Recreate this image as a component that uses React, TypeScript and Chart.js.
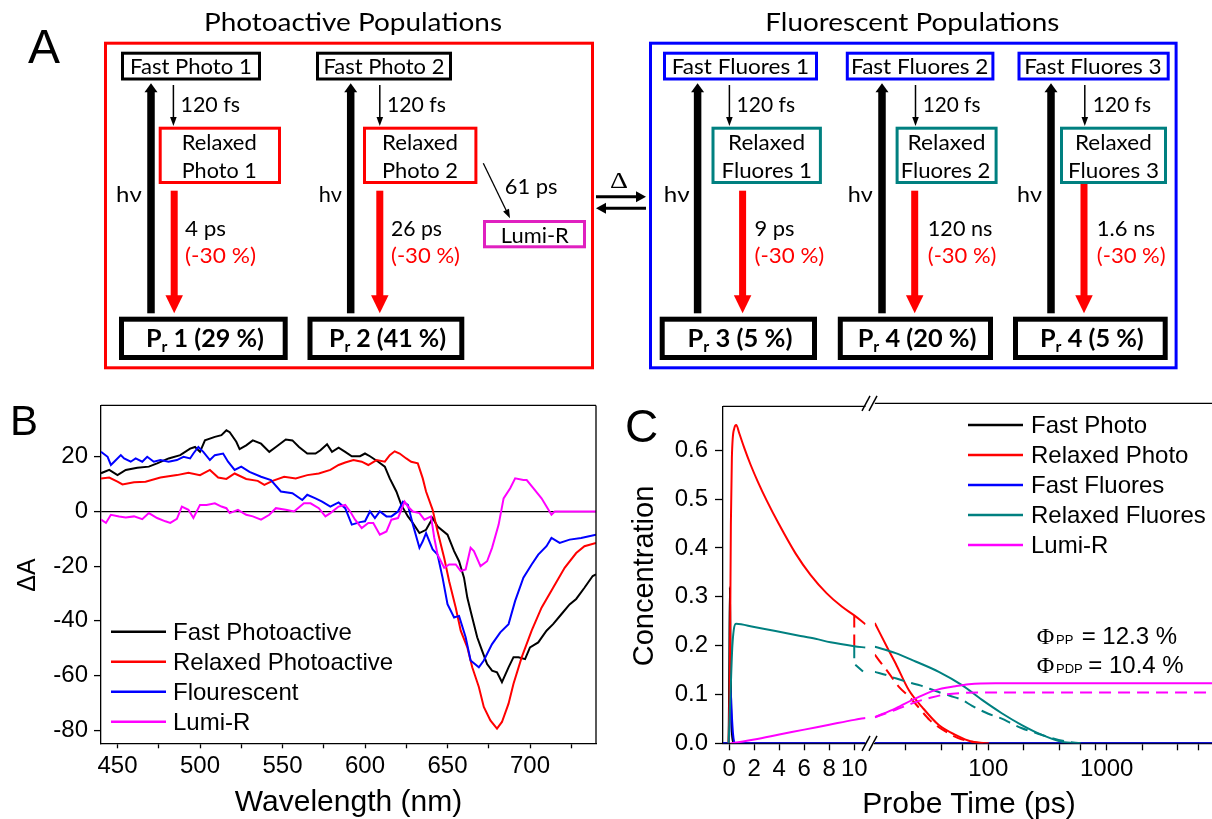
import React, { useEffect, useRef } from "react";
import { Chart, registerables } from "chart.js";

Chart.register(...registerables);

const SANS = "'Liberation Sans', Arial, sans-serif";
const SERIF = "'Liberation Serif', 'Times New Roman', serif";
const CAL = "Lato, 'Open Sans', sans-serif";

// ---------------- Panel B data (wavelength in nm, ΔA) ----------------
const fastPhotoWl = [440,445,450,455,462,469,474,481,488,494,497,500,503,509,513,516,518,522,524,528,532,537,542,546,552,556,560,565,570,573,577,580,584,588,592,597,600,603,608,612,615,619,622,626,629,633,637,641,644,650,654,657,660,662,664,668,671,674,677,680,683,687,690,693,697,700,705,710,714,719,724,728,733,738,740];
const fastPhotoDA = [14,15.2,13.3,15.2,16,16.4,17.6,19.4,20.6,23,23.6,21.8,26,27.3,27.9,29.7,29,25.5,22.8,24.2,26,24.8,21.8,23.6,26.3,26,23.6,21.2,21.2,22.4,24.6,21.8,23.3,21.8,20.2,20.2,21.2,20.2,18.2,16.4,12.1,7.3,2.4,-1.8,-4.2,-7.9,-6.7,-2.4,-5.5,-8.5,-14.5,-18.2,-24.2,-31.5,-36.4,-46,-51,-55.8,-58.2,-58.8,-62.4,-57,-53.3,-53.3,-54,-49.7,-47.9,-43.6,-41.2,-37.6,-34,-32,-27.9,-23.6,-23];

const relaxedPhotoWl = [440,445,450,453,460,467,476,486,493,500,506,511,516,521,528,535,539,544,551,558,565,572,579,584,588,593,598,602,607,612,615,618,621,625,628,632,635,637,641,644,648,651,655,658,662,665,669,672,676,680,683,687,690,695,701,707,714,721,728,733,740];
const relaxedPhotoDA = [12.1,12.4,10.9,9.9,10.7,10.9,12.4,13.3,14.2,13.3,15.2,12.4,11.9,13.9,11.9,11.2,9.7,11.2,12.7,12.1,13.3,13.9,15.2,17,17.9,18.8,18.2,17,18.8,18.2,20.6,22,21.2,19.4,18.2,17.6,12.1,7.3,0.6,-7.3,-17,-25.5,-35.2,-43.6,-49.7,-57,-64.2,-71.5,-76.4,-79.4,-77,-70.3,-63,-53.3,-43.6,-35.2,-27.9,-20.6,-15.2,-12.7,-11.5];

const fluorescentWl = [440,444,446,448,452,454,458,461,465,468,472,476,481,486,490,494,496,499,502,506,509,514,517,521,525,530,537,543,549,556,562,565,570,574,579,584,588,592,597,600,603,606,609,613,616,620,623,626,629,633,635,637,641,644,647,650,654,657,661,664,669,672,677,682,687,691,696,701,705,710,713,718,724,731,740];
const fluorescentDA = [21.8,20,17,18.2,20.6,19.4,18.2,19.4,18.2,20,18.2,18.8,18.2,18.8,20,19.4,21.2,23.6,21.8,18.8,20.6,21.2,18.2,15.2,16.4,14.5,12.7,11.5,7.3,6.7,4.2,6.1,4.8,3.6,1.8,3.3,1.2,-4.8,-3.9,-3.6,0,-2.4,0,-1.8,-1.8,0,3.6,2.4,-4.8,-13.3,-10.9,-7.9,-13.9,-15.8,-24.2,-33.9,-38.8,-38.2,-46,-54.5,-57,-54.5,-48.5,-44.2,-41.2,-32.7,-24.2,-19.4,-15.8,-12.7,-9.7,-11.5,-10.3,-9.7,-8.5];

const lumiRWl = [440,443,446,451,455,460,465,469,474,479,482,486,489,493,496,500,504,509,513,516,518,523,528,532,537,542,546,552,557,563,567,572,576,579,584,588,591,594,598,602,605,609,613,616,620,624,626,629,633,636,640,642,644,648,651,655,658,661,664,666,670,674,677,681,684,688,691,696,698,702,707,710,713,715,740];
const lumiRDA = [-3,-4.2,-1.2,-1.8,-2.2,-1.8,-2.8,-0.6,-2.4,-3.6,-4.2,-2.7,1.8,0.6,-2.4,2.4,2.4,3,1.8,1.2,-0.6,0.6,-1.2,-1.8,-3,-1.2,1.2,0.6,0,3,3,1.2,-1.8,-0.6,1.8,2.4,0,-3,-6.1,-4.2,-4.2,-8.5,-7.3,-3,-2.4,3.6,1.8,0,-0.6,-3,-1.8,-9.7,-15.8,-20.6,-19.4,-19.4,-21.8,-21.2,-13.3,-14.5,-20,-18.2,-13.3,-4.8,4.8,8.5,12.1,11.5,11.5,8.5,4.8,1.8,-1.2,0,0];

const bLegendLabels = ["Fast Photoactive", "Relaxed Photoactive", "Flourescent", "Lumi-R"];
const bColors = ["#000000", "#ff0000", "#0000ff", "#ff00ff"];
const bXTicks = [450, 475, 500, 525, 550, 575, 600, 625, 650, 675, 700, 725];
const bXLabelled = [450, 500, 550, 600, 650, 700];

// ---------------- Panel C data (probe time in ps, concentration) ----------------
// early part: linear axis (-0.5 .. 10.9 ps); late part: log axis (11 ps ..)
const fastPhotoEarlyT = [-0.5,-0.05,0,0.05,0.1,0.15,0.25,0.4,10.9];
const fastPhotoEarlyC = [0,0,0.15,0.32,0.2,0.08,0.01,0,0];
const fastPhotoLateT = [11,8000];
const fastPhotoLateC = [0,0];

const relaxedPhotoEarlyT = [-0.05,0.05,0.13,0.21,0.4,0.56,0.8,1.2,1.7,2.3,3,3.95,5.3,6.5,7.8,9,10,10.9];
const relaxedPhotoEarlyC = [0,0.15,0.45,0.585,0.645,0.652,0.635,0.605,0.571,0.535,0.497,0.45,0.389,0.345,0.307,0.28,0.262,0.244];
const relaxedPhotoLateT = [11,14.4,16.5,21.3,27.5,38.2,52.8,73,101];
const relaxedPhotoLateC = [0.244,0.189,0.162,0.108,0.074,0.037,0.017,0.003,0];
const relaxedPhotoAltEarlyT = [10,10];
const relaxedPhotoAltEarlyC = [0.262,0.19];
const relaxedPhotoAltLateT = [11,12.5,14.4,17.5,22,26.8,32,36,43.5,55,70,90];
const relaxedPhotoAltLateC = [0.18,0.162,0.143,0.115,0.092,0.068,0.047,0.037,0.024,0.011,0.004,0];

const fastFluoresEarlyT = [-0.5,-0.02,0.05,0.1,0.18,0.3,0.45,10.9];
const fastFluoresEarlyC = [0,0,0.08,0.115,0.07,0.02,0,0];
const fastFluoresLateT = [11,8000];
const fastFluoresLateC = [0,0];

const relaxedFluoresEarlyT = [-0.05,0.1,0.25,0.55,2,3.7,5.5,6.9,8.1,10,10.9];
const relaxedFluoresEarlyC = [0,0.1,0.2,0.245,0.238,0.23,0.221,0.214,0.207,0.199,0.196];
const relaxedFluoresLateT = [11,16.5,24.3,38.2,60,88.6,130,192,284,419,600];
const relaxedFluoresLateC = [0.196,0.183,0.166,0.145,0.118,0.088,0.061,0.037,0.017,0.003,0];
const relaxedFluoresAltEarlyT = [10,10,10.7];
const relaxedFluoresAltEarlyC = [0.199,0.163,0.147];
const relaxedFluoresAltLateT = [11,14,16.5,21,27,36,48,60,73,100,130,155,190,260,330,450,600];
const relaxedFluoresAltLateC = [0.145,0.138,0.132,0.124,0.117,0.106,0.096,0.088,0.076,0.06,0.05,0.041,0.031,0.02,0.012,0.004,0];

const lumiREarlyT = [0.1,0.4,2,4,6,8,10,10.9];
const lumiREarlyC = [0,0.001,0.008,0.018,0.028,0.038,0.048,0.052];
const lumiRLateT = [11,16.5,24.3,35.8,52.8,68.4,115,200,8000];
const lumiRLateC = [0.053,0.071,0.091,0.108,0.116,0.12,0.122,0.122,0.122];
const lumiRAltLateT = [11,16.5,24,33,43,60,90,8000];
const lumiRAltLateC = [0.053,0.068,0.083,0.093,0.099,0.102,0.103,0.103];

const cLegendLabels = ["Fast Photo", "Relaxed Photo", "Fast Fluores", "Relaxed Fluores", "Lumi-R"];
const cColors = ["#000000", "#ff0000", "#0000ff", "#008080", "#ff00ff"];
const cLinTicks = [0, 2, 4, 6, 8, 10];
const cLogTicks = [20, 40, 60, 80, 100, 200, 400, 600, 800, 1000, 2000, 4000, 6000, 8000];
const cLogLabelled = [100, 1000];
const quantumYieldPP = "12.3 %";
const quantumYieldPDP = "10.4 %";

// ---------------- helpers ----------------
const pts = (xs: number[], ys: number[]) => xs.map((x, i) => ({ x, y: ys[i] }));

const line = (data: any[], color: string, dash: number[] = [], smooth = false) => ({
  data,
  borderColor: color,
  backgroundColor: color,
  borderWidth: 2,
  pointRadius: 0,
  fill: false,
  borderDash: dash,
  tension: 0,
  cubicInterpolationMode: smooth ? "monotone" : "default",
});

const framePlugin = {
  id: "frame",
  afterDatasetsDraw(chart: any, _args: any, opts: any) {
    const { ctx, chartArea } = chart;
    const { left, right, top, bottom } = chartArea;
    ctx.save();
    ctx.strokeStyle = "#000";
    ctx.lineWidth = 1.3;
    ctx.beginPath();
    if (opts && opts.top) { ctx.moveTo(left, top); ctx.lineTo(right, top); }
    if (opts && opts.right) { ctx.moveTo(right, top); ctx.lineTo(right, bottom); }
    ctx.stroke();
    ctx.restore();
  },
};

const axis = (tickLen: number, pad: number, extraTicks: any = {}, extraGrid: any = {}) => ({
  border: { display: true, color: "#000", width: 1.3 },
  grid: { display: true, drawOnChartArea: false, drawTicks: true, tickLength: tickLen, tickColor: "#000", tickWidth: 1.3, color: "#000", ...extraGrid },
  ticks: { color: "#000", font: { size: 24, family: SANS }, padding: pad, autoSkip: false, maxRotation: 0, ...extraTicks },
});

const fixedTicks = (values: number[]) => (s: any) => {
  s.ticks = values.filter((v) => v >= s.min && v <= s.max).map((v) => ({ value: v }));
};

const DASH = [12, 7];
const PAD_TOP = 18.3;
const X_AXIS_H = 75.7;

function useChart(ref: any, make: () => any) {
  useEffect(() => {
    const chart = new Chart(ref.current, make());
    return () => chart.destroy();
  }, []);
}

function PanelB() {
  const ref = useRef<HTMLCanvasElement>(null);
  useChart(ref, () => ({
    type: "line",
    data: {
      datasets: [
        line(pts(lumiRWl, lumiRDA), bColors[3]),
        line(pts(fluorescentWl, fluorescentDA), bColors[2]),
        line(pts(relaxedPhotoWl, relaxedPhotoDA), bColors[1]),
        line(pts(fastPhotoWl, fastPhotoDA), bColors[0]),
      ],
    },
    options: {
      animation: false,
      responsive: false,
      events: [],
      layout: { padding: { left: 0, right: 14, top: PAD_TOP, bottom: 0 } },
      plugins: { legend: { display: false }, tooltip: { enabled: false }, frame: { top: true, right: true } },
      scales: {
        x: {
          type: "linear", min: 440, max: 740,
          ...axis(5, 4, { callback: (v: number) => (bXLabelled.includes(Math.round(v)) ? String(Math.round(v)) : "") }),
          afterBuildTicks: fixedTicks(bXTicks),
          afterFit: (s: any) => { s.height = X_AXIS_H; },
        },
        y: {
          type: "linear", min: -84.8, max: 38.8,
          ...axis(7, 6, { stepSize: 20, includeBounds: false, callback: (v: number) => String(Math.round(v)) }, {
            drawOnChartArea: true,
            lineWidth: 1.2,
            color: (c: any) => (c.tick && c.tick.value === 0 ? "#000" : "rgba(0,0,0,0)"),
          }),
          afterFit: (s: any) => { s.width = 101; },
        },
      },
    },
    plugins: [framePlugin],
  }));
  return <canvas ref={ref} width={610} height={434} style={{ position: "absolute", left: 0, top: 385 }} />;
}

function PanelCEarly() {
  const ref = useRef<HTMLCanvasElement>(null);
  useChart(ref, () => ({
    type: "line",
    data: {
      datasets: [
        line(pts(lumiREarlyT, lumiREarlyC), cColors[4], [], true),
        line(pts(relaxedFluoresAltEarlyT, relaxedFluoresAltEarlyC), cColors[3], DASH),
        line(pts(relaxedFluoresEarlyT, relaxedFluoresEarlyC), cColors[3], [], true),
        line(pts(relaxedPhotoAltEarlyT, relaxedPhotoAltEarlyC), cColors[1], DASH),
        line(pts(relaxedPhotoEarlyT, relaxedPhotoEarlyC), cColors[1], [], true),
        line(pts(fastFluoresEarlyT, fastFluoresEarlyC), cColors[2], [], true),
        line(pts(fastPhotoEarlyT, fastPhotoEarlyC), cColors[0], [], true),
      ],
    },
    options: {
      animation: false,
      responsive: false,
      events: [],
      layout: { padding: { left: 0, right: 14.5, top: PAD_TOP, bottom: 0 } },
      plugins: { legend: { display: false }, tooltip: { enabled: false }, frame: { top: true } },
      scales: {
        x: {
          type: "linear", min: -0.5, max: 10.9,
          ...axis(7, 5, { callback: (v: number) => String(Math.round(v)) }),
          afterBuildTicks: fixedTicks(cLinTicks),
          afterFit: (s: any) => { s.height = X_AXIS_H; },
        },
        y: {
          type: "linear", min: 0, max: 0.69,
          ...axis(8, 7, { stepSize: 0.1, includeBounds: false, callback: (v: number) => Number(v).toFixed(1) }),
          afterFit: (s: any) => { s.width = 123; },
        },
      },
    },
    plugins: [framePlugin],
  }));
  return <canvas ref={ref} width={280} height={434} style={{ position: "absolute", left: 600, top: 385 }} />;
}

function PanelCLate() {
  const ref = useRef<HTMLCanvasElement>(null);
  useChart(ref, () => ({
    type: "line",
    data: {
      datasets: [
        line(pts(lumiRAltLateT, lumiRAltLateC), cColors[4], DASH, true),
        line(pts(lumiRLateT, lumiRLateC), cColors[4], [], true),
        line(pts(relaxedFluoresAltLateT, relaxedFluoresAltLateC), cColors[3], DASH, true),
        line(pts(relaxedFluoresLateT, relaxedFluoresLateC), cColors[3], [], true),
        line(pts(relaxedPhotoAltLateT, relaxedPhotoAltLateC), cColors[1], DASH, true),
        line(pts(relaxedPhotoLateT, relaxedPhotoLateC), cColors[1], [], true),
        line(pts(fastFluoresLateT, fastFluoresLateC), cColors[2]),
        line(pts(fastPhotoLateT, fastPhotoLateC), cColors[0]),
      ],
    },
    options: {
      animation: false,
      responsive: false,
      events: [],
      layout: { padding: { left: 14.8, right: 6.4, top: PAD_TOP, bottom: 0 } },
      plugins: { legend: { display: false }, tooltip: { enabled: false }, frame: { top: true, right: true } },
      scales: {
        x: {
          type: "logarithmic", min: 11, max: 8000,
          ...axis(7, 5, { callback: (v: number) => (cLogLabelled.includes(Math.round(v)) ? String(Math.round(v)) : "") }),
          afterBuildTicks: fixedTicks(cLogTicks),
          afterFit: (s: any) => { s.height = X_AXIS_H; },
        },
        y: { type: "linear", display: false, min: 0, max: 0.69 },
      },
    },
    plugins: [framePlugin],
  }));
  return <canvas ref={ref} width={360} height={434} style={{ position: "absolute", left: 860, top: 385 }} />;
}

// ---------------- SVG helpers for panel A and annotations ----------------
const T = (p: any) => (
  <text
    x={p.x}
    y={p.y}
    fontSize={p.s || 20}
    fill={p.c || "#000"}
    fontFamily={p.f || CAL}
    fontWeight={p.w || "normal"}
    textAnchor={p.a || "start"}
    textLength={p.len}
    lengthAdjust={p.len ? "spacingAndGlyphs" : undefined}
    transform={p.tr}
  >
    {p.children}
  </text>
);

const UpArrow = ({ x }: any) => (
  <g fill="#000">
    <rect x={x - 3.75} y={91} width={7.5} height={313.3 - 91} />
    <polygon points={`${x - 6.5},92.3 ${x + 6.5},92.3 ${x},83.3`} />
  </g>
);
const RedArrow = ({ x, top }: any) => (
  <g fill="#ff0000">
    <rect x={x - 3.5} y={top} width={7} height={296 - top} />
    <polygon points={`${x - 8.75},295.3 ${x + 8.75},295.3 ${x},313.3`} />
  </g>
);
const ThinArrow = ({ x }: any) => (
  <g>
    <line x1={x} y1={85} x2={x} y2={119} stroke="#000" strokeWidth={1.5} />
    <polygon points={`${x - 3.3},117 ${x + 3.3},117 ${x},126`} fill="#000" />
  </g>
);
const Box = ({ x0, x1, y0, y1, c, sw }: any) => (
  <rect x={x0 + sw / 2} y={y0 + sw / 2} width={x1 - x0 - sw} height={y1 - y0 - sw} fill="#fff" stroke={c} strokeWidth={sw} />
);
const Pr = ({ x, len, n, pct }: any) => (
  <text x={x} y={346.5} fontSize={24} fontWeight="bold" fontFamily={CAL} textLength={len} lengthAdjust="spacingAndGlyphs">
    P<tspan fontSize={15} dy={5}>r</tspan><tspan dy={-5}>{` ${n} (${pct} %)`}</tspan>
  </text>
);

const TEAL = "#008080";
const BLUE = "#0000ff";
const RED = "#ff0000";
const MAG = "#e020c0";

function Overlay() {
  const bRows = [631.7, 661.7, 691.7, 721.7];
  const cRows = [425, 455, 485, 515, 545];
  const slash = (y: number) => (
    <g stroke="#000" strokeWidth={1.5}>
      <line x1={862} y1={y + 7.5} x2={870} y2={y - 7.5} />
      <line x1={869} y1={y + 7.5} x2={877} y2={y - 7.5} />
    </g>
  );
  return (
    <svg width={1212} height={819} style={{ position: "absolute", left: 0, top: 0, pointerEvents: "none" }}>
      {/* ---------- Panel A ---------- */}
      <T x={28} y={63} s={48} f={SANS}>A</T>
      <T x={204} y={31.3} s={25} len={298}>Photoactive Populations</T>
      <T x={765.3} y={31.3} s={25} len={294}>Fluorescent Populations</T>
      <rect x={105.5} y={43.2} width={487} height={324.6} fill="none" stroke={RED} strokeWidth={3} />
      <rect x={650.5} y={43.2} width={525.6} height={324.6} fill="none" stroke={BLUE} strokeWidth={3} />

      {/* top boxes */}
      <Box x0={121} x1={261} y0={51.7} y1={80.5} c="#000" sw={3} />
      <Box x0={316} x1={452} y0={51.7} y1={80.5} c="#000" sw={3} />
      <Box x0={663} x1={818} y0={51.7} y1={80.5} c={BLUE} sw={3} />
      <Box x0={845.8} x1={994.4} y0={51.7} y1={80.5} c={BLUE} sw={3} />
      <Box x0={1017.5} x1={1169.7} y0={51.7} y1={80.5} c={BLUE} sw={3} />
      <T x={130} y={73.5} s={21} len={121.7}>Fast Photo 1</T>
      <T x={323.4} y={73.5} s={21} len={121}>Fast Photo 2</T>
      <T x={671.7} y={73.5} s={21} len={137.4}>Fast Fluores 1</T>
      <T x={851} y={73.5} s={21} len={137.4}>Fast Fluores 2</T>
      <T x={1024.3} y={73.5} s={21} len={137.4}>Fast Fluores 3</T>

      {/* relaxed boxes */}
      <Box x0={158.7} x1={281} y0={126.7} y1={184} c={RED} sw={3} />
      <Box x0={363} x1={477.4} y0={126.7} y1={184} c={RED} sw={3} />
      <Box x0={711.5} x1={821.9} y0={126.7} y1={184} c={TEAL} sw={3} />
      <Box x0={895.6} x1={997.6} y0={126.7} y1={184} c={TEAL} sw={3} />
      <Box x0={1060} x1={1167} y0={126.7} y1={184} c={TEAL} sw={3} />
      <T x={181.7} y={149.5} s={21} len={75}>Relaxed</T>
      <T x={181.7} y={177.5} s={21} len={75}>Photo 1</T>
      <T x={382} y={149.5} s={21} len={76}>Relaxed</T>
      <T x={382} y={177.5} s={21} len={76}>Photo 2</T>
      <T x={728} y={149.5} s={21} len={77}>Relaxed</T>
      <T x={721.5} y={177.5} s={21} len={90.5}>Fluores 1</T>
      <T x={907.5} y={149.5} s={21} len={78}>Relaxed</T>
      <T x={900.8} y={177.5} s={21} len={89.6}>Fluores 2</T>
      <T x={1075} y={149.5} s={21} len={76.7}>Relaxed</T>
      <T x={1068} y={177.5} s={21} len={91}>Fluores 3</T>

      {/* Lumi-R */}
      <Box x0={483} x1={586} y0={220} y1={248.3} c={MAG} sw={3} />
      <T x={500.8} y={242.5} s={21} len={68}>Lumi-R</T>
      <line x1={483.3} y1={163.3} x2={506.1} y2={210.2} stroke="#000" strokeWidth={1.3} />
      <polygon points="510,218.3 509,208.8 503.1,211.6" fill="#000" />
      <T x={504.8} y={193.5} s={21} len={52.7}>61 ps</T>

      {/* arrows */}
      {[151, 350.7, 697.6, 882, 1051].map((x) => <UpArrow key={x} x={x} />)}
      <RedArrow x={174.2} top={190.7} />
      <RedArrow x={379.8} top={190.7} />
      <RedArrow x={742.6} top={190.7} />
      <RedArrow x={914.7} top={190.7} />
      <RedArrow x={1084} top={184} />
      {[173.4, 379.8, 729.4, 915.5, 1084.8].map((x) => <ThinArrow key={x} x={x} />)}
      <T x={180.5} y={111.5} s={21} len={59.5}>120 fs</T>
      <T x={387} y={111.5} s={21} len={59}>120 fs</T>
      <T x={736.6} y={111.5} s={21} len={58.4}>120 fs</T>
      <T x={922.7} y={111.5} s={21} len={57.7}>120 fs</T>
      <T x={1092.8} y={111.5} s={21} len={58.2}>120 fs</T>
      <T x={116} y={202} s={22} len={25.7}>hν</T>
      <T x={318.7} y={202} s={22} len={23.3}>hν</T>
      <T x={663.7} y={202} s={22} len={25.9}>hν</T>
      <T x={847.8} y={202} s={22} len={25.1}>hν</T>
      <T x={1017} y={202} s={22} len={25}>hν</T>

      <T x={185} y={235.5} s={21} len={41}>4 ps</T>
      <T x={391} y={235.5} s={21} len={51}>26 ps</T>
      <T x={754.5} y={235.5} s={21} len={40}>9 ps</T>
      <T x={927.8} y={235.5} s={21} len={64.6}>120 ns</T>
      <T x={1096.8} y={235.5} s={21} len={58.2}>1.6 ns</T>
      <T x={185} y={262.5} s={21} c={RED} len={71}>(-30 %)</T>
      <T x={391} y={262.5} s={21} c={RED} len={69}>(-30 %)</T>
      <T x={754.5} y={262.5} s={21} c={RED} len={69.8}>(-30 %)</T>
      <T x={927.8} y={262.5} s={21} c={RED} len={68.6}>(-30 %)</T>
      <T x={1096.8} y={262.5} s={21} c={RED} len={68.9}>(-30 %)</T>

      {/* Pr boxes */}
      <Box x0={119} x1={287.7} y0={316.7} y1={360} c="#000" sw={5} />
      <Box x0={307.5} x1={464.3} y0={316.7} y1={360} c="#000" sw={5} />
      <Box x0={659.7} x1={817} y0={316.7} y1={360} c="#000" sw={5} />
      <Box x0={837.8} x1={993} y0={316.7} y1={360} c="#000" sw={5} />
      <Box x0={1013} x1={1167.7} y0={316.7} y1={360} c="#000" sw={5} />
      <Pr x={146} len={118} n={1} pct={29} />
      <Pr x={329} len={117} n={2} pct={41} />
      <Pr x={687.6} len={104.8} n={3} pct={5} />
      <Pr x={857.7} len={118.8} n={4} pct={20} />
      <Pr x={1040} len={103.8} n={4} pct={5} />

      {/* equilibrium */}
      <T x={610} y={188.3} s={24} f={SERIF} len={18}>Δ</T>
      <line x1={596} y1={196.7} x2={637} y2={196.7} stroke="#000" strokeWidth={3} />
      <polygon points="646,196.7 636,191.2 636,202.2" fill="#000" />
      <line x1={605} y1={208.3} x2={646} y2={208.3} stroke="#000" strokeWidth={3} />
      <polygon points="596,208.3 606,202.8 606,213.8" fill="#000" />

      {/* ---------- Panel B annotations ---------- */}
      <T x={10} y={435} s={42} f={SANS}>B</T>
      <T x={0} y={0} s={25} f={SANS} a="middle" tr="translate(35,575) rotate(-90)">ΔA</T>
      <T x={348.5} y={811} s={30} f={SANS} a="middle">Wavelength (nm)</T>
      {bLegendLabels.map((lab, i) => (
        <g key={lab}>
          <line x1={111} x2={166} y1={bRows[i]} y2={bRows[i]} stroke={bColors[i]} strokeWidth={2.5} />
          <T x={173} y={bRows[i] + 8} s={24} f={SANS}>{lab}</T>
        </g>
      ))}

      {/* ---------- Panel C annotations ---------- */}
      <T x={625} y={442} s={46} f={SANS}>C</T>
      <T x={0} y={0} s={29} f={SANS} a="middle" tr="translate(652.7,576) rotate(-90)">Concentration</T>
      <T x={969} y={813} s={30} f={SANS} a="middle">Probe Time (ps)</T>
      {cLegendLabels.map((lab, i) => (
        <g key={lab}>
          <line x1={968} x2={1023} y1={cRows[i]} y2={cRows[i]} stroke={cColors[i]} strokeWidth={2.5} />
          <T x={1031} y={cRows[i] + 8.3} s={24} f={SANS}>{lab}</T>
        </g>
      ))}
      <text y={644.3} fontFamily={SANS} fontSize={24} fill="#000">
        <tspan x={1036.7} fontFamily={SERIF}>Φ</tspan>
        <tspan x={1056} fontSize={13}>PP</tspan>
        <tspan x={1081.7}>{`= ${quantumYieldPP}`}</tspan>
      </text>
      <text y={673.3} fontFamily={SANS} fontSize={24} fill="#000">
        <tspan x={1036.7} fontFamily={SERIF}>Φ</tspan>
        <tspan x={1056} fontSize={13}>PDP</tspan>
        <tspan x={1088.3}>{`= ${quantumYieldPDP}`}</tspan>
      </text>
      {slash(403.3)}
      {slash(743.3)}
    </svg>
  );
}

export default function App() {
  useEffect(() => {
    document.body.style.margin = "0";
    document.body.style.background = "#fff";
  }, []);
  return (
    <div style={{ position: "absolute", left: 0, top: 0, width: 1212, height: 819, overflow: "hidden", background: "#fff" }}>
      <PanelB />
      <PanelCEarly />
      <PanelCLate />
      <Overlay />
    </div>
  );
}
